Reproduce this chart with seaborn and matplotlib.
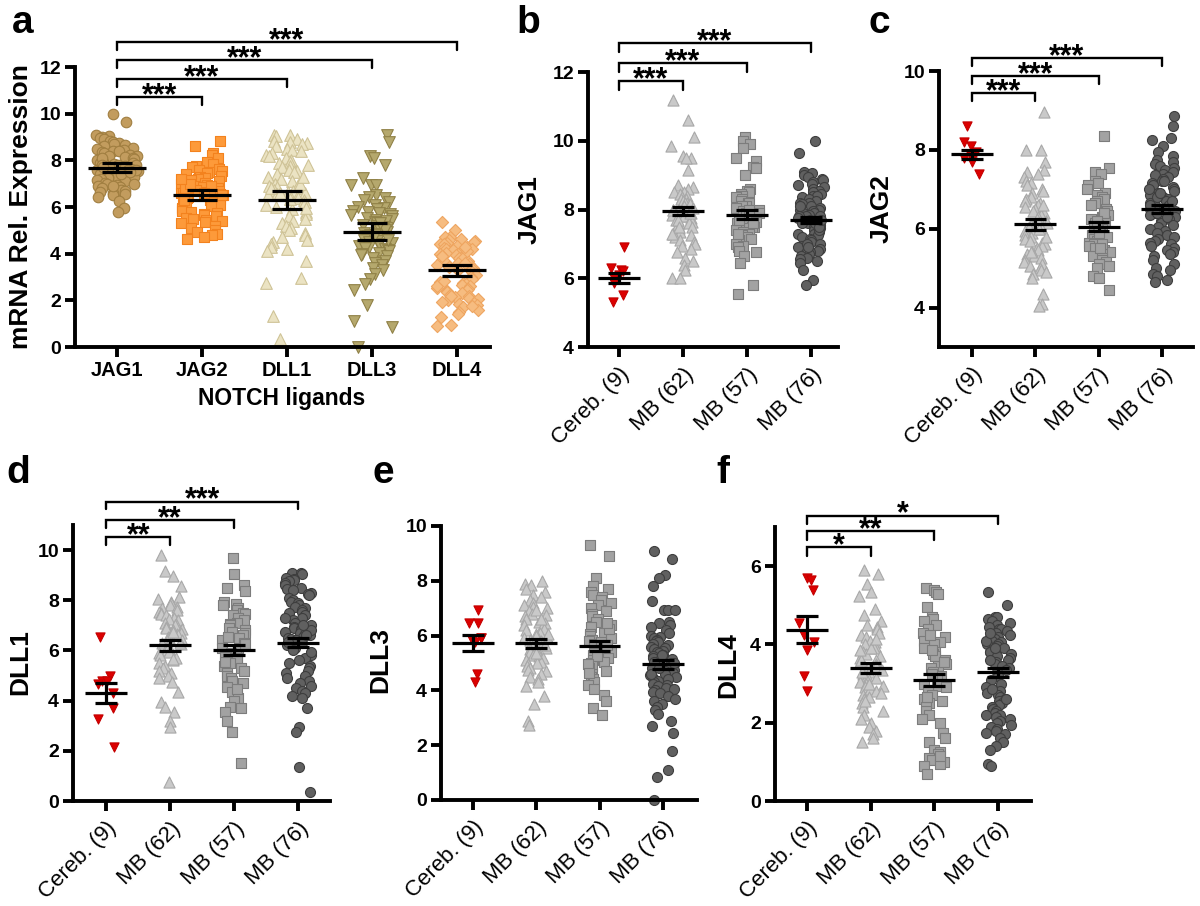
import numpy as np
import pandas as pd
import matplotlib
matplotlib.use("Agg")
import matplotlib.pyplot as plt
import seaborn as sns

# ---------------- data ----------------
groups = ["Cereb. (9)", "MB (62)", "MB (57)", "MB (76)"]
ligands = ["JAG1", "JAG2", "DLL1", "DLL3", "DLL4"]

jag1_cereb = [6.9, 6.3, 6.25, 6.2, 6.1, 6.0, 5.85, 5.5, 5.3]
jag1_mb62 = [11.2, 10.6, 10.1, 9.85, 9.55, 9.5, 9.5, 9.15, 8.7, 8.65,
             8.6, 8.5, 8.5, 8.45, 8.4, 8.35, 8.3, 8.3, 8.25, 8.2,
             8.2, 8.15, 8.1, 8.05, 8.0, 8.0, 7.95, 7.9, 7.9, 7.85,
             7.8, 7.8, 7.75, 7.7, 7.65, 7.6, 7.6, 7.55, 7.5, 7.45,
             7.4, 7.35, 7.3, 7.25, 7.2, 7.1, 7.05, 7.0, 6.95, 6.85,
             6.75, 6.6, 6.5, 6.4, 6.25, 6.0, 6.0, 8.0, 7.7, 7.5,
             7.9, 7.3]
jag1_mb57 = [10.1, 10.0, 9.9, 9.8, 9.5, 9.4, 9.25, 9.2, 9.0, 8.6,
             8.55, 8.5, 8.45, 8.4, 8.35, 8.3, 8.25, 8.2, 8.2, 8.1,
             8.1, 8.05, 8.0, 7.95, 7.9, 7.9, 7.85, 7.8, 7.75, 7.7,
             7.65, 7.6, 7.55, 7.5, 7.5, 7.45, 7.4, 7.35, 7.3, 7.25,
             7.2, 7.15, 7.1, 7.0, 6.95, 6.9, 6.8, 6.75, 6.65, 6.45,
             5.8, 5.55, 7.6, 7.9, 8.0, 7.3, 7.7]
jag1_mb76 = [10.0, 9.65, 9.1, 9.05, 9.0, 8.95, 8.9, 8.85, 8.8, 8.75,
             8.7, 8.65, 8.6, 8.55, 8.5, 8.45, 8.4, 8.4, 8.35, 8.3,
             8.25, 8.2, 8.2, 8.15, 8.1, 8.05, 8.0, 8.0, 7.95, 7.9,
             7.9, 7.85, 7.8, 7.8, 7.75, 7.7, 7.7, 7.65, 7.6, 7.6,
             7.55, 7.5, 7.5, 7.45, 7.4, 7.35, 7.3, 7.3, 7.25, 7.2,
             7.15, 7.1, 7.05, 7.0, 6.95, 6.9, 6.85, 6.8, 6.75, 6.7,
             6.65, 6.6, 6.55, 6.5, 6.45, 6.25, 5.95, 5.8, 7.6, 7.4,
             7.0, 8.1, 7.8, 7.5, 6.9, 7.7]

jag2_cereb = [8.6, 8.2, 8.1, 7.95, 7.85, 7.8, 7.8, 7.7, 7.4]
jag2_mb62 = [8.95, 8.0, 8.0, 7.7, 7.5, 7.45, 7.4, 7.3, 7.2, 7.15,
             7.1, 7.0, 6.95, 6.9, 6.8, 6.75, 6.7, 6.65, 6.6, 6.55,
             6.5, 6.45, 6.4, 6.35, 6.3, 6.25, 6.2, 6.15, 6.1, 6.05,
             6.0, 5.95, 5.9, 5.85, 5.8, 5.75, 5.7, 5.65, 5.6, 5.55,
             5.5, 5.45, 5.4, 5.35, 5.3, 5.25, 5.2, 5.15, 5.1, 5.05,
             5.0, 4.95, 4.9, 4.85, 4.75, 4.35, 4.1, 4.05, 6.6, 6.0,
             5.8, 5.4]
jag2_mb57 = [8.35, 7.55, 7.45, 7.4, 7.2, 7.15, 7.1, 7.0, 6.9, 6.85,
             6.8, 6.75, 6.7, 6.65, 6.6, 6.5, 6.45, 6.4, 6.35, 6.3,
             6.3, 6.25, 6.2, 6.15, 6.1, 6.05, 6.0, 6.0, 5.95, 5.9,
             5.85, 5.8, 5.75, 5.7, 5.65, 5.6, 5.55, 5.5, 5.45, 5.4,
             5.35, 5.3, 5.25, 5.2, 5.15, 5.1, 5.05, 5.0, 4.8, 4.75,
             4.45, 6.4, 6.1, 5.9, 5.6, 6.2, 5.5]
jag2_mb76 = [8.85, 8.6, 8.3, 8.25, 8.1, 7.95, 7.85, 7.75, 7.7, 7.65,
             7.6, 7.55, 7.5, 7.45, 7.4, 7.35, 7.3, 7.25, 7.2, 7.15,
             7.1, 7.05, 7.0, 6.95, 6.9, 6.85, 6.8, 6.75, 6.7, 6.65,
             6.6, 6.55, 6.5, 6.5, 6.45, 6.4, 6.35, 6.3, 6.25, 6.2,
             6.15, 6.1, 6.05, 6.0, 5.95, 5.9, 5.85, 5.8, 5.75, 5.7,
             5.65, 5.6, 5.55, 5.5, 5.45, 5.4, 5.35, 5.3, 5.2, 5.1,
             5.0, 4.95, 4.85, 4.8, 4.7, 4.65, 6.6, 6.7, 6.4, 6.8,
             7.0, 6.9, 6.6, 7.2, 6.3, 6.5]

dll1_cereb = [6.55, 5.0, 4.8, 4.8, 4.65, 4.3, 3.7, 3.25, 2.15]
dll1_mb62 = [9.8, 9.15, 8.95, 8.55, 8.15, 8.05, 7.95, 7.9, 7.8, 7.75,
             7.7, 7.6, 7.55, 7.5, 7.45, 7.4, 7.3, 7.25, 7.2, 7.1,
             7.05, 7.0, 6.95, 6.9, 6.85, 6.8, 6.7, 6.65, 6.6, 6.55,
             6.5, 6.45, 6.4, 6.3, 6.25, 6.2, 6.1, 6.05, 6.0, 5.95,
             5.9, 5.8, 5.7, 5.6, 5.5, 5.4, 5.3, 5.2, 5.1, 5.0,
             4.9, 4.75, 4.35, 3.95, 3.75, 3.55, 3.2, 2.95, 0.75, 6.3,
             5.65, 6.75]
dll1_mb57 = [9.7, 9.05, 8.6, 8.5, 8.35, 7.95, 7.85, 7.8, 7.7, 7.6,
             7.5, 7.45, 7.4, 7.3, 7.2, 7.1, 7.05, 7.0, 6.9, 6.8,
             6.75, 6.7, 6.6, 6.5, 6.4, 6.3, 6.2, 6.1, 6.0, 5.9,
             5.8, 5.7, 5.6, 5.5, 5.4, 5.3, 5.2, 5.1, 5.0, 4.9,
             4.8, 4.7, 4.55, 4.35, 4.1, 4.0, 3.75, 3.7, 3.55, 3.2,
             2.75, 1.5, 6.55, 5.75, 6.25, 5.55, 4.45]
dll1_mb76 = [9.1, 9.1, 9.05, 8.9, 8.85, 8.8, 8.75, 8.7, 8.6, 8.5,
             8.45, 8.4, 8.3, 8.25, 8.2, 8.1, 8.0, 7.95, 7.9, 7.8,
             7.75, 7.7, 7.6, 7.55, 7.5, 7.4, 7.3, 7.2, 7.1, 7.0,
             6.95, 6.9, 6.85, 6.8, 6.75, 6.7, 6.65, 6.6, 6.55, 6.5,
             6.45, 6.4, 6.3, 6.2, 6.1, 6.0, 5.9, 5.8, 5.7, 5.6,
             5.5, 5.4, 5.3, 5.2, 5.1, 5.0, 4.9, 4.8, 4.7, 4.6,
             4.5, 4.4, 4.3, 4.2, 4.1, 3.7, 2.95, 2.75, 1.35, 0.35,
             6.8, 7.0, 6.6, 5.95, 6.35, 7.3]

dll3_cereb = [6.95, 6.45, 6.45, 5.9, 5.9, 5.85, 5.75, 4.6, 4.3]
dll3_mb62 = [8.0, 7.9, 7.85, 7.7, 7.6, 7.5, 7.4, 7.3, 7.2, 7.1,
             7.05, 7.0, 6.9, 6.8, 6.75, 6.7, 6.6, 6.5, 6.45, 6.4,
             6.3, 6.25, 6.2, 6.1, 6.05, 6.0, 5.95, 5.9, 5.85, 5.8,
             5.75, 5.7, 5.6, 5.55, 5.5, 5.45, 5.4, 5.3, 5.25, 5.2,
             5.1, 5.05, 5.0, 4.95, 4.9, 4.8, 4.75, 4.7, 4.6, 4.5,
             4.4, 4.3, 4.15, 3.8, 3.5, 2.9, 2.75, 6.95, 6.6, 6.05,
             5.65, 5.35]
dll3_mb57 = [9.3, 8.9, 8.1, 7.8, 7.7, 7.6, 7.5, 7.4, 7.3, 7.2,
             7.1, 7.0, 6.9, 6.8, 6.7, 6.6, 6.5, 6.4, 6.3, 6.2,
             6.1, 6.05, 6.0, 5.9, 5.85, 5.8, 5.7, 5.6, 5.55, 5.5,
             5.4, 5.35, 5.3, 5.2, 5.1, 5.05, 5.0, 4.9, 4.8, 4.7,
             4.6, 4.5, 4.4, 4.3, 4.2, 4.05, 3.85, 3.6, 3.35, 3.1,
             6.25, 5.75, 5.25, 4.95, 6.45, 5.65, 4.65]
dll3_mb76 = [9.1, 8.8, 8.2, 8.1, 7.8, 7.25, 6.95, 6.95, 6.95, 6.5,
             6.45, 6.4, 6.3, 6.2, 6.1, 6.0, 5.95, 5.9, 5.85, 5.8,
             5.75, 5.7, 5.65, 5.6, 5.55, 5.5, 5.45, 5.4, 5.35, 5.3,
             5.25, 5.2, 5.15, 5.1, 5.05, 5.0, 4.95, 4.9, 4.85, 4.8,
             4.75, 4.7, 4.65, 4.6, 4.55, 4.5, 4.45, 4.4, 4.35, 4.3,
             4.25, 4.2, 4.15, 4.1, 4.05, 4.0, 3.95, 3.9, 3.8, 3.7,
             3.6, 3.5, 3.4, 3.3, 3.15, 2.9, 2.7, 2.45, 1.8, 1.1,
             0.85, 0.0, 5.0, 4.6, 5.3, 4.8]

dll4_cereb = [5.7, 5.65, 5.4, 4.55, 4.25, 4.05, 3.85, 3.2, 2.8]
dll4_mb62 = [5.9, 5.8, 5.55, 5.35, 5.25, 4.9, 4.75, 4.6, 4.5, 4.45,
             4.4, 4.3, 4.25, 4.2, 4.1, 4.05, 4.0, 3.95, 3.9, 3.8,
             3.75, 3.7, 3.65, 3.6, 3.55, 3.5, 3.45, 3.4, 3.35, 3.3,
             3.25, 3.2, 3.15, 3.1, 3.05, 3.0, 2.95, 2.9, 2.85, 2.8,
             2.75, 2.7, 2.6, 2.5, 2.4, 2.3, 2.2, 2.1, 2.0, 1.9,
             1.8, 1.7, 1.6, 1.5, 3.9, 3.6, 3.3, 3.0, 2.65, 4.15,
             3.85, 2.55]
dll4_mb57 = [5.45, 5.4, 5.35, 5.3, 4.95, 4.7, 4.65, 4.6, 4.5, 4.4,
             4.3, 4.2, 4.1, 4.05, 4.0, 3.9, 3.8, 3.75, 3.7, 3.6,
             3.5, 3.45, 3.4, 3.3, 3.2, 3.1, 3.0, 2.95, 2.9, 2.8,
             2.7, 2.6, 2.55, 2.5, 2.4, 2.3, 2.2, 2.1, 2.0, 1.75,
             1.6, 1.5, 1.3, 1.25, 1.2, 1.1, 1.05, 1.0, 0.95, 0.9,
             0.7, 3.55, 3.25, 2.65, 4.25, 3.85, 1.15]
dll4_mb76 = [5.35, 5.0, 4.7, 4.7, 4.65, 4.6, 4.55, 4.5, 4.45, 4.4,
             4.4, 4.35, 4.3, 4.25, 4.2, 4.2, 4.15, 4.1, 4.05, 4.0,
             4.0, 3.95, 3.9, 3.85, 3.8, 3.8, 3.75, 3.7, 3.65, 3.6,
             3.55, 3.5, 3.45, 3.4, 3.35, 3.3, 3.2, 3.1, 3.0, 2.9,
             2.8, 2.75, 2.7, 2.65, 2.6, 2.55, 2.5, 2.45, 2.4, 2.35,
             2.3, 2.25, 2.2, 2.15, 2.1, 2.05, 2.0, 1.95, 1.9, 1.85,
             1.8, 1.7, 1.6, 1.5, 1.4, 1.3, 0.95, 0.9, 3.9, 4.1,
             2.6, 2.2, 1.75, 4.3, 3.6, 2.85]

# mean and SEM bars as drawn in the figure
jag1_mean = [6.01, 7.95, 7.85, 7.69]
jag1_sem = [0.15, 0.12, 0.13, 0.08]
jag2_mean = [7.89, 6.11, 6.05, 6.51]
jag2_sem = [0.11, 0.13, 0.11, 0.10]
dll1_mean = [4.31, 6.20, 6.00, 6.31]
dll1_sem = [0.40, 0.21, 0.20, 0.18]
dll3_mean = [5.74, 5.72, 5.63, 4.95]
dll3_sem = [0.29, 0.16, 0.19, 0.16]
dll4_mean = [4.38, 3.40, 3.09, 3.29]
dll4_sem = [0.34, 0.13, 0.15, 0.11]
pooled_err = [0.20, 0.21, 0.39, 0.38, 0.24]   # panel a error bars

# significance vs Cereb. (or vs JAG1 in panel a)
pooled_sig = ["***", "***", "***", "***"]
jag1_sig = ["***", "***", "***"]
jag2_sig = ["***", "***", "***"]
dll1_sig = ["**", "**", "***"]
dll3_sig = []
dll4_sig = ["*", "**", "*"]

# ---------------- style ----------------
group_markers = ["v", "^", "s", "o"]
group_face = ["#DC0000", "#C9C9C9", "#A2A2A2", "#606060"]
group_edge = ["#C40000", "#A8A8A8", "#7C7C7C", "#3E3E3E"]
group_size = [6.6, 8.0, 6.8, 7.2]
group_jitter = [0.13, 0.19, 0.19, 0.21]

lig_markers = ["o", "s", "^", "v", "D"]
lig_face = ["#C29C5E", "#FD9A3A", "#EBE3C3", "#B5A86D", "#F6BC80"]
lig_edge = ["#A07E40", "#F3821E", "#CFC397", "#908147", "#EEA560"]
lig_size = [7.6, 7.2, 8.4, 8.4, 6.2]

sns.set_style("ticks")
plt.rcParams["font.family"] = ["Liberation Sans", "DejaVu Sans"]
plt.rcParams.update({"text.color": "black", "axes.edgecolor": "black",
                     "xtick.color": "black", "ytick.color": "black",
                     "axes.labelcolor": "black"})

W, H = 1200, 906
fig = plt.figure(figsize=(W / 100, H / 100), dpi=100)


def px_axes(left, top, right, bottom):
    return fig.add_axes([left / W, 1 - bottom / H, (right - left) / W, (bottom - top) / H])


def draw_panel(ax, series, cats, markers, faces, edges, sizes, jitters, means, errs,
               ylim, yticks, xlim, mean_hw=0.33, cap_hw=0.17, seed=0):
    np.random.seed(seed)
    df = pd.DataFrame({"group": np.repeat(cats, [len(s) for s in series]),
                       "value": np.concatenate(series)})
    for i, g in enumerate(cats):
        sns.stripplot(data=df[df["group"] == g], x="group", y="value", order=cats,
                      marker=markers[i], color=faces[i], edgecolor=edges[i],
                      linewidth=0.8, size=sizes[i], jitter=jitters[i], ax=ax, zorder=2)
    for coll in ax.collections:
        coll.set_clip_on(False)
    xs = np.arange(len(cats))
    m = np.asarray(means)
    e = np.asarray(errs)
    kw = dict(color="black", lw=2.3, zorder=6, clip_on=False)
    ax.hlines(m, xs - mean_hw, xs + mean_hw, **kw)
    ax.hlines(m + e, xs - cap_hw, xs + cap_hw, **kw)
    ax.hlines(m - e, xs - cap_hw, xs + cap_hw, **kw)
    ax.vlines(xs, m - e, m + e, **kw)
    ax.set_ylim(*ylim)
    ax.set_xlim(*xlim)
    ax.set_yticks(yticks)
    ax.set_yticklabels([str(t) for t in yticks], fontsize=14, fontweight="bold")
    ax.set_xlabel("")
    ax.set_ylabel("")
    sns.despine(ax=ax)
    for s in ["left", "bottom"]:
        ax.spines[s].set_linewidth(2.8)
        ax.spines[s].set_color("black")
    ax.tick_params(width=2.8, length=7, color="black", pad=3)


def add_brackets(ax, sigs, levels, drop, fs=22):
    for k, (lab, y) in enumerate(zip(sigs, levels)):
        x2 = k + 1
        ax.plot([0, 0, x2, x2], [y - drop, y, y, y - drop], color="black", lw=1.7,
                clip_on=False, solid_joinstyle="miter")
        ax.annotate(lab, xy=(x2 / 2, y), xytext=(0, -5), textcoords="offset points",
                    ha="center", va="baseline", fontsize=fs, fontweight="bold",
                    annotation_clip=False)


def set_group_labels(ax):
    ax.set_xticks(np.arange(len(groups)))
    ax.set_xticklabels(groups, rotation=45, ha="right", rotation_mode="anchor",
                       fontsize=16)
    ax.tick_params(axis="x", pad=5)


# ---------------- panel a ----------------
ax_a = px_axes(75, 67, 490, 347)
pooled = [jag1_mb76, jag2_mb76, dll1_mb76, dll3_mb76, dll4_mb76]
pooled_mean = [jag1_mean[3], jag2_mean[3], dll1_mean[3], dll3_mean[3], dll4_mean[3]]
draw_panel(ax_a, pooled, ligands, lig_markers, lig_face, lig_edge, lig_size,
           [0.25] * 5, pooled_mean, pooled_err, (0, 12), [0, 2, 4, 6, 8, 10, 12],
           (-0.494, 4.39), mean_hw=0.34, cap_hw=0.18, seed=1)
ax_a.set_xticks(np.arange(len(ligands)))
ax_a.set_xticklabels(ligands, fontsize=14.5, fontweight="bold")
add_brackets(ax_a, pooled_sig, [10.7, 11.49, 12.3, 13.07], 0.34)
fig.text(282 / W, 1 - 399 / H, "NOTCH ligands", ha="center", va="center",
         fontsize=16.5, fontweight="bold")

# ---------------- panels b-f ----------------
panels = [
    # name, series, means, sems, rect, ylim, yticks, xlim, sig, levels, drop, ylabel pos
    ("JAG1", [jag1_cereb, jag1_mb62, jag1_mb57, jag1_mb76], jag1_mean, jag1_sem,
     (588, 72, 838, 347), (4, 12), [4, 6, 8, 10, 12], (-0.484, 3.42),
     jag1_sig, [11.74, 12.26, 12.84], 0.25, (530, 210)),
    ("JAG2", [jag2_cereb, jag2_mb62, jag2_mb57, jag2_mb76], jag2_mean, jag2_sem,
     (939, 71, 1193, 347), (3, 10), [4, 6, 8, 10], (-0.52, 3.49),
     jag2_sig, [9.44, 9.87, 10.33], 0.2, (882, 209)),
    ("DLL1", [dll1_cereb, dll1_mb62, dll1_mb57, dll1_mb76], dll1_mean, dll1_sem,
     (73, 525, 330, 801), (0, 11), [0, 2, 4, 6, 8, 10], (-0.52, 3.5),
     dll1_sig, [10.52, 11.2, 11.93], 0.3, (20, 662)),
    ("DLL3", [dll3_cereb, dll3_mb62, dll3_mb57, dll3_mb76], dll3_mean, dll3_sem,
     (441, 526, 697, 800), (0, 10), [0, 2, 4, 6, 8, 10], (-0.505, 3.54),
     dll3_sig, [], 0.0, (380, 660)),
    ("DLL4", [dll4_cereb, dll4_mb62, dll4_mb57, dll4_mb76], dll4_mean, dll4_sem,
     (775, 527, 1031, 801), (0, 7), [0, 2, 4, 6], (-0.5, 3.52),
     dll4_sig, [6.49, 6.9, 7.29], 0.22, (728, 665)),
]

for i, (name, series, means, sems, rect, ylim, yticks, xlim, sig, levels, drop, lab) in enumerate(panels):
    ax = px_axes(*rect)
    draw_panel(ax, series, groups, group_markers, group_face, group_edge, group_size,
               group_jitter, means, sems, ylim, yticks, xlim, seed=10 + i)
    set_group_labels(ax)
    add_brackets(ax, sig, levels, drop)
    fig.text(lab[0] / W, 1 - lab[1] / H, name, rotation=90, ha="center", va="center",
             fontsize=19, fontweight="bold")

fig.text(21 / W, 1 - 207 / H, "mRNA Rel. Expression", rotation=90, ha="center",
         va="center", fontsize=19, fontweight="bold")

# panel letters
for letter, x, y in [("a", 12, 33), ("b", 516, 33), ("c", 868, 33),
                     ("d", 6, 483), ("e", 372, 483), ("f", 716, 483)]:
    fig.text(x / W, 1 - y / H, letter, ha="left", va="baseline", fontsize=28,
             fontweight="bold")

fig.savefig("out.png", dpi=100)
